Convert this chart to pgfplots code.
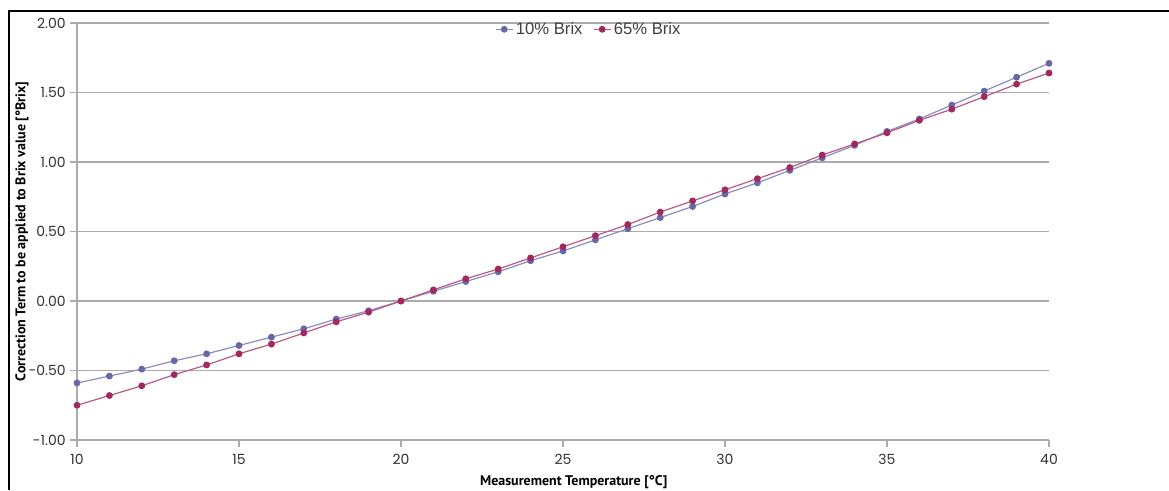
\documentclass[border=0pt]{standalone}
\usepackage{fontspec}
\setmainfont{Liberation Sans}
\newfontfamily\tickfont{Poppins}
\newfontfamily\labelfont{PT Sans}
\usepackage{pgfplots}
\pgfplotsset{compat=1.18}

\definecolor{brixten}{HTML}{6868A8}
\definecolor{brixtenline}{HTML}{8C8CC0}
\definecolor{brixsixty}{HTML}{A02A5E}
\definecolor{brixsixtyline}{HTML}{BA5A82}
\definecolor{gridgrey}{HTML}{ABABAB}

\begin{document}
\begin{tikzpicture}
  % picture frame (1px = 0.75pt)
  \useasboundingbox (-57.75pt,-37.5pt) rectangle (819pt,330pt);
  \draw[black, line width=0.8pt] (-51pt,-37.5pt) -- (-51pt,321.75pt) -- (819pt,321.75pt);
  \begin{axis}[
      at={(0,0)}, anchor=south west,
      scale only axis,
      width=729pt, height=312.75pt,
      xmin=10, xmax=40, ymin=-1, ymax=2,
      xtick={10,15,...,40},
      ytick={-1,-0.5,...,2},
      axis lines*=left,
      axis line style={draw=gridgrey, line width=0.9pt},
      ymajorgrids,
      major grid style={draw=gridgrey, line width=0.9pt},
      tick align=outside,
      major tick length=5pt,
      tick style={draw=gridgrey, line width=0.9pt},
      /pgf/number format/assume math mode=true,
      yticklabel style={/pgf/number format/fixed, /pgf/number format/fixed zerofill,
        /pgf/number format/precision=2, font=\tickfont\fontsize{10.5}{12}\selectfont,
        text=black!80},
      xticklabel style={font=\tickfont\fontsize{10.5}{12}\selectfont, text=black!80,
        yshift=-2pt},
      xlabel={\textbf{Measurement Temperature [°C]}},
      ylabel={\textbf{Correction Term to be applied to Brix value [°Brix]}},
      xlabel style={font=\labelfont\fontsize{10.5}{12}\selectfont,
        at={(axis description cs:0.511,0)}, anchor=center, yshift=-31.5pt},
      ylabel style={font=\labelfont\fontsize{10.5}{12}\selectfont,
        at={(axis description cs:-0.0566,0.5)}, anchor=center},
      legend style={at={(0.527,1.012)}, anchor=north, draw=none, fill=none,
        legend columns=-1, font=\fontsize{12.5}{14}\selectfont, text=black!75,
        inner sep=1pt,
        /tikz/every even column/.append style={column sep=6pt}},
      legend image code/.code={
        \draw[#1, mark repeat=2, mark phase=2] plot coordinates {(0cm,0cm) (0.22cm,0cm) (0.44cm,0cm)};},
    ]
    \addplot[brixtenline, line width=0.9pt, mark=*, mark size=2.1pt,
      mark options={draw=brixten, fill=brixten}] coordinates {
      (10,-0.59) (11,-0.54) (12,-0.49) (13,-0.43) (14,-0.38)
      (15,-0.32) (16,-0.26) (17,-0.20) (18,-0.13) (19,-0.07)
      (20,0.00) (21,0.07) (22,0.14) (23,0.21) (24,0.29)
      (25,0.36) (26,0.44) (27,0.52) (28,0.60) (29,0.68)
      (30,0.77) (31,0.85) (32,0.94) (33,1.03) (34,1.12)
      (35,1.22) (36,1.31) (37,1.41) (38,1.51) (39,1.61)
      (40,1.71)
    };
    \addplot[brixsixtyline, line width=0.9pt, mark=*, mark size=2.1pt,
      mark options={draw=brixsixty, fill=brixsixty}] coordinates {
      (10,-0.75) (11,-0.68) (12,-0.61) (13,-0.53) (14,-0.46)
      (15,-0.38) (16,-0.31) (17,-0.23) (18,-0.15) (19,-0.08)
      (20,0.00) (21,0.08) (22,0.16) (23,0.23) (24,0.31)
      (25,0.39) (26,0.47) (27,0.55) (28,0.64) (29,0.72)
      (30,0.80) (31,0.88) (32,0.96) (33,1.05) (34,1.13)
      (35,1.21) (36,1.30) (37,1.38) (38,1.47) (39,1.56)
      (40,1.64)
    };
    \legend{10\% Brix, 65\% Brix}
  \end{axis}
\end{tikzpicture}
\end{document}
